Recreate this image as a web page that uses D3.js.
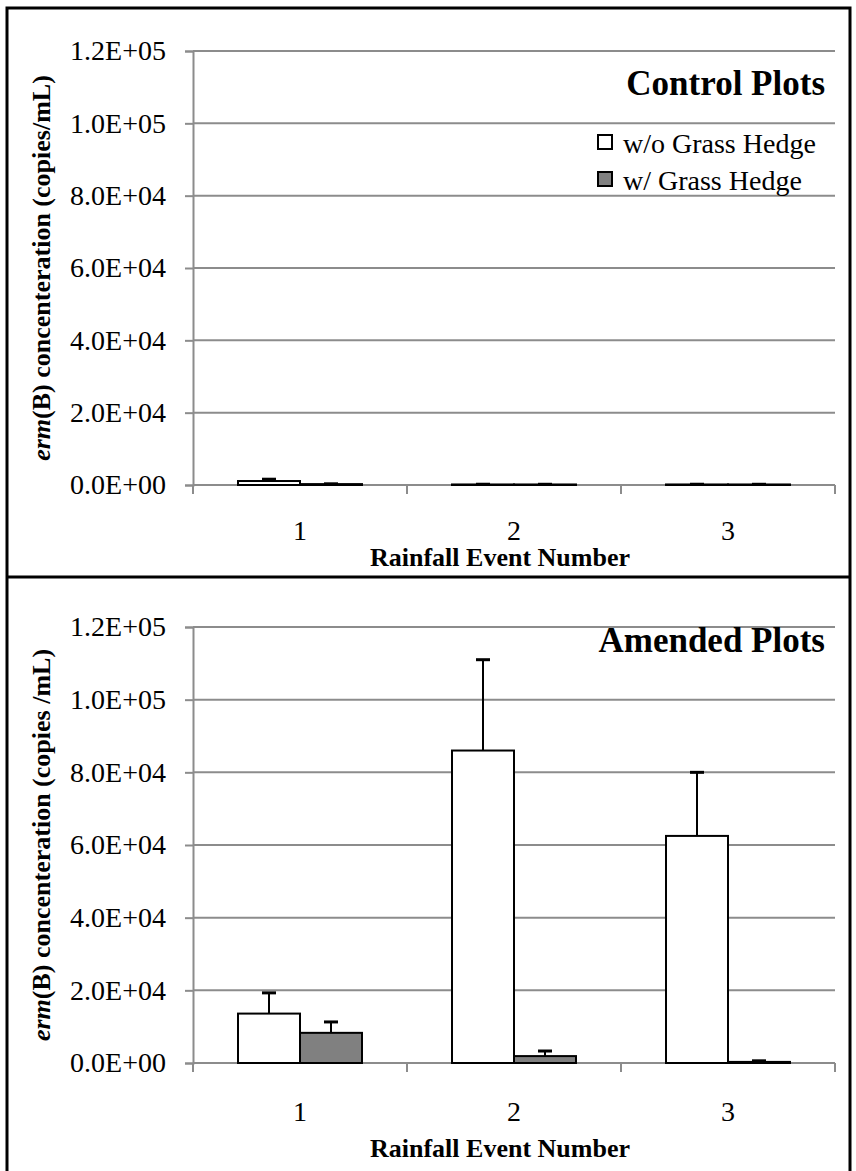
<!DOCTYPE html>
<html>
<head>
<meta charset="utf-8">
<script src="https://cdn.jsdelivr.net/npm/d3@7"></script>
<style>
  body { margin: 0; background: #fff; }
  text { font-family: "Liberation Serif", "Times New Roman", serif; }
</style>
</head>
<body>
<div id="chart"></div>
<script>
// data
var categories = ["1", "2", "3"];
var seriesNames = ["w/o Grass Hedge", "w/ Grass Hedge"];
var seriesFill = ["#ffffff", "#808080"];
var yTicks = [0, 20000, 40000, 60000, 80000, 100000, 120000];

var controlWithout = [1100, 150, 150];
var controlWithoutErr = [500, 60, 60];
var controlWith = [250, 150, 150];
var controlWithErr = [80, 50, 50];

var amendedWithout = [13600, 86000, 62500];
var amendedWithoutErr = [5700, 25000, 17500];
var amendedWith = [8300, 1900, 300];
var amendedWithErr = [3000, 1400, 300];

var W = 856, H = 1171;
var svg = d3.select("#chart").append("svg")
  .attr("width", W).attr("height", H);

// expo format like 1.2E+05
function sci(d) {
  var s = d.toExponential(1).split("e");
  var e = parseInt(s[1], 10);
  var sign = e < 0 ? "-" : "+";
  e = Math.abs(e);
  return s[0] + "E" + sign + (e < 10 ? "0" + e : e);
}

var xScale = d3.scaleBand().domain(categories).range([193, 835]);
var inner = d3.scaleBand().domain([0, 1]).range([0, xScale.bandwidth()]).paddingOuter(0.726);

function panel(opt) {
  var yScale = d3.scaleLinear().domain([0, 120000]).range([opt.bottom, opt.top]);
  var g = svg.append("g");

  // gridlines
  g.selectAll(".grid").data(yTicks.slice(1)).enter().append("line")
    .attr("x1", 193).attr("x2", 835)
    .attr("y1", function(d) { return yScale(d); })
    .attr("y2", function(d) { return yScale(d); })
    .attr("stroke", "#8c8c8c").attr("stroke-width", 2);

  var yAxis = d3.axisLeft(yScale).tickValues(yTicks).tickFormat(sci).tickSize(8).tickPadding(19);
  var ya = g.append("g").attr("transform", "translate(193,0)").call(yAxis);
  ya.select(".domain").attr("stroke", "#8c8c8c").attr("stroke-width", 2);
  ya.selectAll(".tick line").attr("stroke", "#8c8c8c").attr("stroke-width", 2);
  ya.selectAll("text").attr("font-size", 28).attr("fill", "#000")
    .style("font-family", "Liberation Serif");

  var xAxis = d3.axisBottom(xScale).tickSize(0).tickPadding(opt.xPad);
  var xa = g.append("g").attr("transform", "translate(0," + opt.bottom + ")").call(xAxis);
  xa.select(".domain").attr("stroke", "#8c8c8c").attr("stroke-width", 2)
    .attr("d", "M193,0H835");
  xa.selectAll("text").attr("font-size", 28).attr("fill", "#000")
    .style("font-family", "Liberation Serif");
  // boundary ticks between categories
  xa.selectAll(".bound").data([193, 407, 621, 835]).enter().append("line")
    .attr("x1", function(d) { return d; }).attr("x2", function(d) { return d; })
    .attr("y1", 0).attr("y2", 9)
    .attr("stroke", "#8c8c8c").attr("stroke-width", 2);

  // bars
  var rows = [];
  categories.forEach(function(c, i) {
    opt.vals.forEach(function(v, s) {
      rows.push({ cat: c, s: s, v: v[i], e: opt.errs[s][i] });
    });
  });

  g.selectAll(".bar").data(rows).enter().append("rect")
    .attr("x", function(d) { return xScale(d.cat) + inner(d.s); })
    .attr("width", inner.bandwidth())
    .attr("y", function(d) { return yScale(d.v); })
    .attr("height", function(d) { return opt.bottom - yScale(d.v); })
    .attr("fill", function(d) { return seriesFill[d.s]; })
    .attr("stroke", "#000").attr("stroke-width", 2);

  // error bars (upper only)
  var eb = g.selectAll(".err").data(rows).enter().append("g");
  eb.append("line")
    .attr("x1", function(d) { return xScale(d.cat) + inner(d.s) + inner.bandwidth() / 2; })
    .attr("x2", function(d) { return xScale(d.cat) + inner(d.s) + inner.bandwidth() / 2; })
    .attr("y1", function(d) { return yScale(d.v); })
    .attr("y2", function(d) { return yScale(d.v + d.e); })
    .attr("stroke", "#000").attr("stroke-width", 2);
  eb.append("line")
    .attr("x1", function(d) { return xScale(d.cat) + inner(d.s) + inner.bandwidth() / 2 - 7; })
    .attr("x2", function(d) { return xScale(d.cat) + inner(d.s) + inner.bandwidth() / 2 + 7; })
    .attr("y1", function(d) { return yScale(d.v + d.e); })
    .attr("y2", function(d) { return yScale(d.v + d.e); })
    .attr("stroke", "#000").attr("stroke-width", 3);

  // panel title
  g.append("text").attr("x", 825).attr("y", opt.titleY)
    .attr("text-anchor", "end").attr("font-size", 35).attr("font-weight", "bold")
    .text(opt.title);

  // x title
  g.append("text").attr("x", 500).attr("y", opt.xTitleY)
    .attr("text-anchor", "middle").attr("font-size", 26).attr("font-weight", "bold")
    .text("Rainfall Event Number");

  // y title
  var yt = g.append("text")
    .attr("transform", "translate(50," + ((opt.top + opt.bottom) / 2) + ") rotate(-90)")
    .attr("text-anchor", "middle").attr("font-size", 26).attr("font-weight", "bold");
  yt.append("tspan").attr("font-style", "italic").text("erm");
  yt.append("tspan").text(opt.yLabel);

  return g;
}

var controlG = panel({
  top: 51, bottom: 485, xPad: 35, titleY: 95, xTitleY: 566,
  title: "Control Plots", yLabel: "(B) concenteration (copies/mL)",
  vals: [controlWithout, controlWith], errs: [controlWithoutErr, controlWithErr]
});

// legend in the control panel
var leg = controlG.selectAll(".leg").data(seriesNames).enter().append("g")
  .attr("transform", function(d, i) { return "translate(598," + (135 + i * 37) + ")"; });
leg.append("rect").attr("width", 14).attr("height", 14)
  .attr("fill", function(d, i) { return seriesFill[i]; })
  .attr("stroke", "#000").attr("stroke-width", 2);
leg.append("text").attr("x", 25).attr("y", 18).attr("font-size", 28).text(function(d) { return d; });

panel({
  top: 627, bottom: 1063, xPad: 38, titleY: 652, xTitleY: 1157,
  title: "Amended Plots", yLabel: "(B) concenteration (copies /mL)",
  vals: [amendedWithout, amendedWith], errs: [amendedWithoutErr, amendedWithErr]
});

// frame
var frame = svg.append("g").attr("fill", "none").attr("stroke", "#000");
frame.append("path").attr("d", "M7,1171V8H850V1171").attr("stroke-width", 3);
frame.append("line").attr("x1", 7).attr("x2", 850).attr("y1", 577).attr("y2", 577).attr("stroke-width", 3);
</script>
</body>
</html>
